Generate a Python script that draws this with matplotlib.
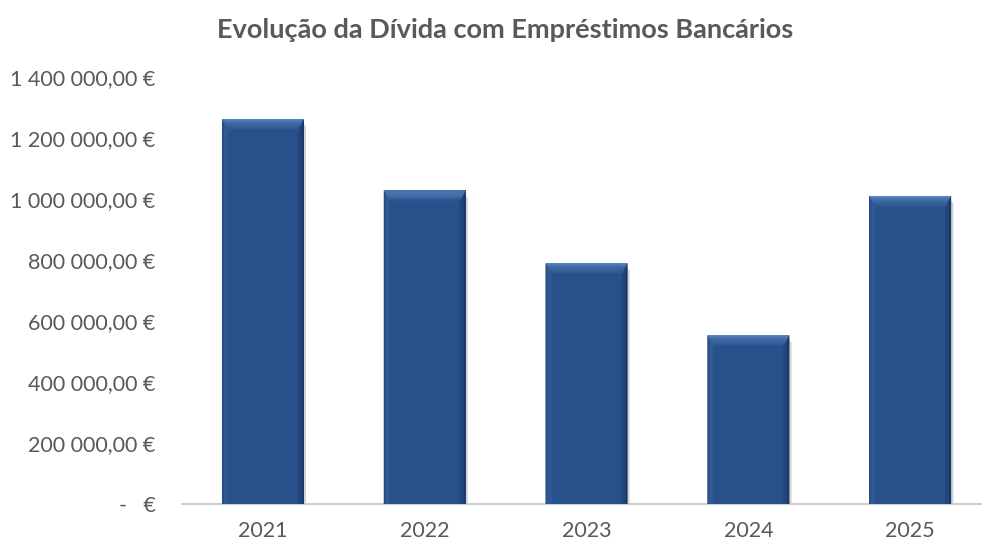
import matplotlib
matplotlib.use("Agg")
import matplotlib.pyplot as plt
import numpy as np
from matplotlib.patches import Polygon
from matplotlib.ticker import FuncFormatter
from matplotlib.colors import to_rgb

years = ["2021", "2022", "2023", "2024", "2025"]
debt = [1262000, 1028000, 790000, 554000, 1010000]
yticks = [0, 200000, 400000, 600000, 800000, 1000000, 1200000, 1400000]

plt.rcParams['font.family'] = ['Lato', 'DejaVu Sans']

fig = plt.figure(figsize=(9.82, 5.44), dpi=100)
ax = fig.add_axes([0.1853, 0.0735, 0.824, 0.785])
ax.set_clip_on(False)

x = list(range(len(years)))
main = np.array(to_rgb("#28508A"))
light = np.array(to_rgb("#5A86C2"))
dark = np.array(to_rgb("#1A3864"))
bars = ax.bar(x, debt, width=0.505, color=main, zorder=3)

ax.set_xlim(-0.5, len(years) - 0.5)
ax.set_ylim(0, 1400000)

dx = 0.036
dy = 36000
n = 10
for b in bars:
    x0 = b.get_x(); x1 = x0 + b.get_width(); top = b.get_height()
    # right soft shadow
    ax.add_patch(Polygon([(x1, top - dy * 0.4), (x1 + 0.014, top - dy * 0.7), (x1 + 0.014, 0), (x1, 0)],
                         closed=True, color="#cfd2d8", lw=0, zorder=2))
    # left edge bevel (slightly lighter)
    ax.add_patch(Polygon([(x0, top), (x0 + dx, top - dy), (x0 + dx, 0), (x0, 0)],
                         closed=True, color=main * 0.85 + light * 0.15, lw=0, zorder=4))
    ax.add_patch(Polygon([(x0, top), (x0 + dx * 0.25, top - dy * 0.25), (x0 + dx * 0.25, 0), (x0, 0)],
                         closed=True, color=main * 0.8 + dark * 0.2, lw=0, zorder=4))
    # right edge bevel (darker)
    ax.add_patch(Polygon([(x1, top), (x1 - dx, top - dy), (x1 - dx, 0), (x1, 0)],
                         closed=True, color=main * 0.6 + dark * 0.4, lw=0, zorder=4))
    ax.add_patch(Polygon([(x1, top), (x1 - dx * 0.35, top - dy * 0.35), (x1 - dx * 0.35, 0), (x1, 0)],
                         closed=True, color=dark, lw=0, zorder=4))
    # top bevel gradient
    for i in range(n):
        t0 = i / n; t1 = (i + 1) / n
        c = light * (1 - t0) + main * t0
        ax.add_patch(Polygon([(x0 + dx * t0, top - dy * t0), (x1 - dx * t0, top - dy * t0),
                              (x1 - dx * t1, top - dy * t1), (x0 + dx * t1, top - dy * t1)],
                             closed=True, color=c, lw=0, zorder=5))

def fmt(v, pos):
    if v == 0:
        return "-   €"
    s = f"{v:,.2f}".replace(",", " ").replace(".", ",")
    return s + " €"

ax.set_yticks(yticks)
ax.yaxis.set_major_formatter(FuncFormatter(fmt))
ax.set_xticks(x)
ax.set_xticklabels(years)

for s in ["top", "right", "left"]:
    ax.spines[s].set_visible(False)
ax.spines["bottom"].set_color("#C8C8C8")
ax.spines["bottom"].set_linewidth(1.3)
ax.tick_params(axis="both", length=0, labelsize=15.5, colors="#595959")
ax.tick_params(axis="x", pad=12)
ax.tick_params(axis="y", pad=19)

fig.text(0.514, 0.945, "Evolução da Dívida com Empréstimos Bancários", ha="center", va="center",
         fontsize=19.5, fontweight="bold", color="#595959")

fig.savefig("out.png", dpi=100)
